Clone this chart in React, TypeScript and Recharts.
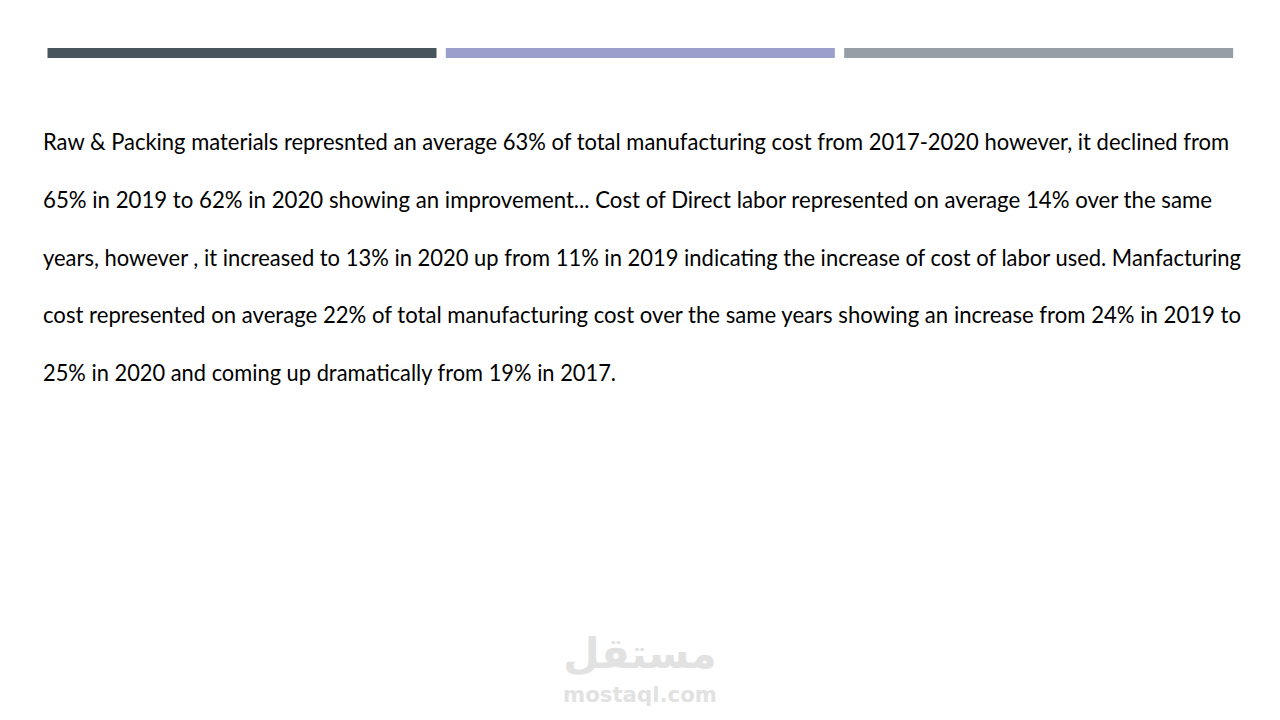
import React from "react";
import { BarChart, Bar, XAxis, YAxis, Cell } from "recharts";

const segmentNames = ["left", "middle", "right"];
const segmentValues = [1, 1, 1];
const segmentColors = ["#48555C", "#9B9FCB", "#979EA5"];

const paragraphLines = [
  "Raw & Packing materials represnted an average 63% of total manufacturing cost from 2017-2020 however, it declined from",
  "65% in 2019 to 62% in 2020 showing an improvement... Cost of Direct labor represented on average 14% over the same",
  "years, however , it increased to 13% in 2020 up from 11% in 2019 indicating the increase of cost of labor used. Manfacturing",
  "cost represented on average 22% of total manufacturing cost over the same years showing an increase from 24% in 2019 to",
  "25% in 2020 and coming up dramatically from 19% in 2017.",
];
const lineWidths = [1186, 1169, 1198, 1198, 573];

const watermarkArabic = "مستقل";
const watermarkLatin = "mostaql.com";

const headerData = segmentNames.map((name, i) => ({ name, value: segmentValues[i] }));

export default function App() {
  return (
    <div
      style={{
        position: "absolute",
        left: 0,
        top: 0,
        width: 1280,
        height: 720,
        background: "#ffffff",
        overflow: "hidden",
      }}
    >
      <div style={{ position: "absolute", left: 0, top: 0 }}>
        <BarChart
          width={1280}
          height={58}
          data={headerData}
          margin={{ top: 48, right: 42.5, bottom: 0, left: 42.5 }}
        >
          <XAxis dataKey="name" hide />
          <YAxis hide domain={[0, 1]} />
          <Bar dataKey="value" barSize={389} isAnimationActive={false}>
            {headerData.map((d, i) => (
              <Cell key={d.name} fill={segmentColors[i]} />
            ))}
          </Bar>
        </BarChart>
      </div>
      <svg
        width={1280}
        height={720}
        style={{ position: "absolute", left: 0, top: 0 }}
      >
        {paragraphLines.map((line, i) => (
          <text
            key={i}
            x={43}
            y={150 + i * 57.8}
            fontFamily="'Gill Sans MT', 'Gill Sans', Lato, 'Open Sans', sans-serif"
            fontSize={22.5}
            fill="#000000"
            textLength={lineWidths[i]}
            lengthAdjust="spacingAndGlyphs"
          >
            {line}
          </text>
        ))}
        <text
          x={640}
          y={668}
          textAnchor="middle"
          fontFamily="'DejaVu Sans', 'Noto Sans', sans-serif"
          fontWeight="bold"
          fontSize={42}
          fill="#e2e2e2"
        >
          {watermarkArabic}
        </text>
        <text
          x={640}
          y={702}
          textAnchor="middle"
          fontFamily="'DejaVu Sans', 'Liberation Sans', sans-serif"
          fontWeight="bold"
          fontSize={22}
          fill="#e2e2e2"
          textLength={154}
          lengthAdjust="spacingAndGlyphs"
        >
          {watermarkLatin}
        </text>
      </svg>
    </div>
  );
}
